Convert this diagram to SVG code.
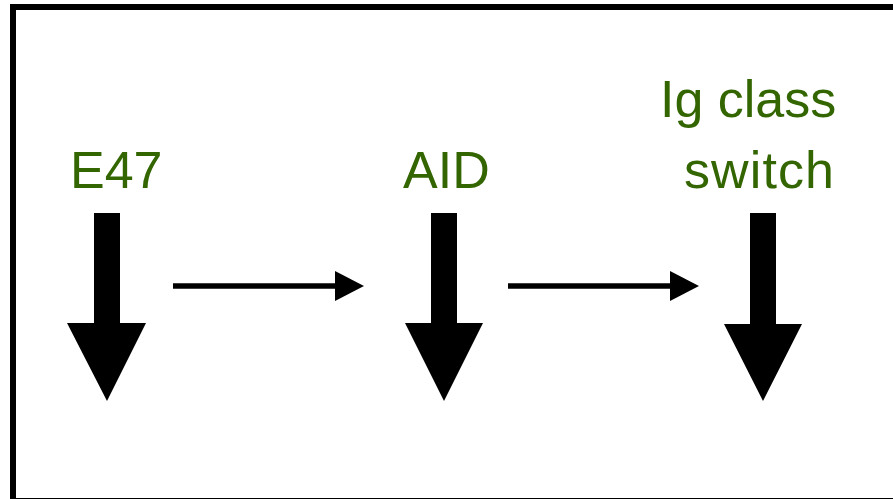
<svg xmlns="http://www.w3.org/2000/svg" width="893" height="499" viewBox="0 0 893 499">
<style>
.lbl{font-family:"Liberation Sans",Arial,sans-serif;font-size:52px;fill:#336600}
.big{fill:#000}
.conn{stroke:#000;stroke-width:5.5;fill:none}
</style>
<defs>
<marker id="ah" markerUnits="userSpaceOnUse" markerWidth="29" markerHeight="30" refX="0" refY="15" orient="auto">
<path d="M0,0 L29,15 L0,30 Z" fill="#000"/>
</marker>
</defs>
<rect x="0" y="0" width="893" height="499" fill="#fff"/>
<rect x="13" y="7" width="900" height="494" fill="none" stroke="#000" stroke-width="6"/>
<g id="node-e47">
<text class="lbl" x="70" y="188">E47</text>
<path class="big" d="M94,213 H120 V323 H146 L107,401 L67,323 H94 Z"/>
</g>
<g id="node-aid">
<text class="lbl" x="403" y="188">AID</text>
<path class="big" d="M431,213 H457 V323 H483 L444,401 L405,323 H431 Z"/>
</g>
<g id="node-ig">
<text class="lbl" x="660" y="117">Ig class</text>
<text class="lbl" x="684" y="188" textLength="150">switch</text>
<path class="big" d="M750,213 H776 V324 H802 L763,401 L724,324 H750 Z"/>
</g>
<g id="connectors">
<line class="conn" x1="173" y1="286" x2="335" y2="286" marker-end="url(#ah)"/>
<line class="conn" x1="508" y1="286" x2="670" y2="286" marker-end="url(#ah)"/>
</g>
</svg>
